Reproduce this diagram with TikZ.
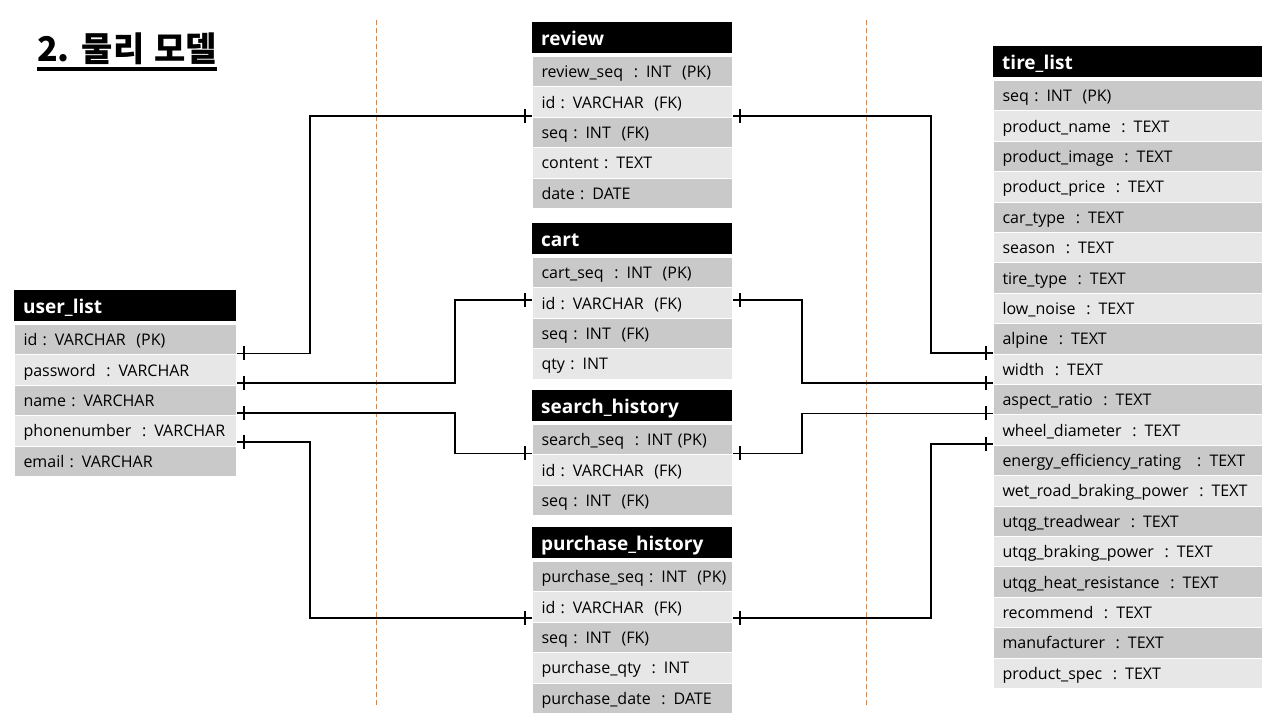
\documentclass[tikz,border=0pt]{standalone}
\usepackage{fontspec}
\setmainfont{Open Sans}
\newfontfamily\kr{Noto Sans CJK KR}
\usetikzlibrary{calc}
\definecolor{rowdark}{RGB}{201,201,201}
\definecolor{rowlight}{RGB}{231,231,231}
\definecolor{divc}{RGB}{209,134,86}
\tikzset{
  hdr/.style={fill=black, text=white, font=\fontsize{19}{22}\selectfont\bfseries,
    anchor=north west, inner xsep=9pt, inner ysep=0pt, minimum height=31pt, align=left,
    text height=17pt, text depth=1pt},
  rowbox/.style={anchor=north west, inner xsep=9pt, inner ysep=0pt, minimum height=30.4pt,
    draw=white, line width=1pt, font=\fontsize{16}{19}\selectfont, align=left,
    text height=14pt, text depth=2pt},
  conn/.style={line width=1.8pt},
  tickmark/.style={line width=2.2pt},
  divider/.style={draw=divc, line width=0.8pt, dash pattern=on 5pt off 3pt},
  titlestyle/.style={font=\kr\bfseries\fontsize{34}{38}\selectfont, inner sep=0pt, anchor=base west},
}
\newcommand\ertable[6]{%
  \pgfmathsetmacro\tw{#4-18}%
  \node[hdr, text width=\tw pt] (#1) at (#2,#3) {#5};
  \foreach \rowtxt [count=\i] in {#6} {%
    \pgfmathsetmacro\yy{#3+34+(\i-1)*30.4}%
    \ifodd\i\relax \def\rc{rowdark}\else \def\rc{rowlight}\fi
    \node[rowbox, fill=\rc, text width=\tw pt] (#1\i) at (#2,\yy) {\mbox{\rowtxt}};
  }%
}
\begin{document}
\begin{tikzpicture}[x=1pt,y=-1pt]
\useasboundingbox[fill=white] (0,0) rectangle (1280,720);

% title
\node[titlestyle] (title) at (37,61) {2.\hspace{0.35em}물리\hspace{0.3em}모델};
\draw[line width=4pt] ([yshift=-8pt]title.base west) -- ([yshift=-8pt]title.base east);

% dividers
\draw[divider] (376,20) -- (376,706);
\draw[divider] (866,20) -- (866,706);

% tables
\ertable{ul}{14}{290}{222}{user\_list}{id : VARCHAR~ (PK), password~ : VARCHAR, name : VARCHAR, phonenumber~ : VARCHAR, email : VARCHAR}
\ertable{rv}{532}{22}{200}{review}{review\_seq~ : INT~ (PK), id : VARCHAR~ (FK), seq : INT~ (FK), content : TEXT, date : DATE}
\ertable{ct}{532}{223}{200}{cart}{cart\_seq~ : INT~ (PK), id : VARCHAR~ (FK), seq : INT~ (FK), qty : INT}
\ertable{sh}{532}{390}{200}{search\_history}{search\_seq~ : INT (PK), id : VARCHAR~ (FK), seq : INT~ (FK)}
\ertable{ph}{532}{527}{200}{purchase\_history}{purchase\_seq : INT~ (PK), id : VARCHAR~ (FK), seq : INT~ (FK), purchase\_qty~ : INT, purchase\_date~ : DATE}
\ertable{tl}{993}{46}{269}{tire\_list}{seq : INT~ (PK), product\_name~ : TEXT, product\_image~ : TEXT, product\_price~ : TEXT, car\_type~ : TEXT, season~ : TEXT, tire\_type~ : TEXT, low\_noise~ : TEXT, alpine~ : TEXT, width~ : TEXT, aspect\_ratio~ : TEXT, wheel\_diameter~ : TEXT, energy\_efficiency\_rating~~ : TEXT, wet\_road\_braking\_power~ : TEXT, utqg\_treadwear~ : TEXT, utqg\_braking\_power~ : TEXT, utqg\_heat\_resistance~ : TEXT, recommend~ : TEXT, manufacturer~ : TEXT, product\_spec~ : TEXT}

% connectors: user_list -> middle tables
\draw[conn] ([yshift=2pt]ul1.south east) -- ++(73,0) |- ([yshift=2pt]rv2.south west);
\draw[conn] ([yshift=3pt]ul2.south east) -- ++(218,0) |- ([yshift=3pt]ct2.west);
\draw[conn] ([yshift=3pt]ul3.south east) -- ++(218,0) |- ([yshift=2pt]sh1.south west);
\draw[conn] ([yshift=5pt]ul4.south east) -- ++(73,0) |- ([yshift=5pt]ph2.south west);

% connectors: middle tables -> tire_list
\draw[conn] ([yshift=2pt]rv2.south east) -- ++(198,0) |- ([yshift=2pt]tl9.south west);
\draw[conn] ([yshift=3pt]ct2.east) -- ++(69,0) |- ([yshift=2pt]tl10.south west);
\draw[conn] ([yshift=2pt]sh1.south east) -- ++(69,0) |- ([yshift=2pt]tl11.south west);
\draw[conn] ([yshift=5pt]ph2.south east) -- ++(198,0) |- ([yshift=2pt]tl12.south west);

% ticks (one bar near each end)
\draw[tickmark] ([xshift=7pt,yshift=2pt]ul1.south east) ++(0,-7) -- ++(0,14);
\draw[tickmark] ([xshift=7pt,yshift=3pt]ul2.south east) ++(0,-7) -- ++(0,14);
\draw[tickmark] ([xshift=7pt,yshift=3pt]ul3.south east) ++(0,-7) -- ++(0,14);
\draw[tickmark] ([xshift=7pt,yshift=5pt]ul4.south east) ++(0,-7) -- ++(0,14);

\draw[tickmark] ([xshift=-7pt,yshift=2pt]rv2.south west) ++(0,-7) -- ++(0,14);
\draw[tickmark] ([xshift=-7pt,yshift=3pt]ct2.west) ++(0,-7) -- ++(0,14);
\draw[tickmark] ([xshift=-7pt,yshift=2pt]sh1.south west) ++(0,-7) -- ++(0,14);
\draw[tickmark] ([xshift=-7pt,yshift=5pt]ph2.south west) ++(0,-7) -- ++(0,14);

\draw[tickmark] ([xshift=7pt,yshift=2pt]rv2.south east) ++(0,-7) -- ++(0,14);
\draw[tickmark] ([xshift=7pt,yshift=3pt]ct2.east) ++(0,-7) -- ++(0,14);
\draw[tickmark] ([xshift=7pt,yshift=2pt]sh1.south east) ++(0,-7) -- ++(0,14);
\draw[tickmark] ([xshift=7pt,yshift=5pt]ph2.south east) ++(0,-7) -- ++(0,14);

\draw[tickmark] ([xshift=-7pt,yshift=2pt]tl9.south west) ++(0,-7) -- ++(0,14);
\draw[tickmark] ([xshift=-7pt,yshift=2pt]tl10.south west) ++(0,-7) -- ++(0,14);
\draw[tickmark] ([xshift=-7pt,yshift=2pt]tl11.south west) ++(0,-7) -- ++(0,14);
\draw[tickmark] ([xshift=-7pt,yshift=2pt]tl12.south west) ++(0,-7) -- ++(0,14);
\end{tikzpicture}
\end{document}
